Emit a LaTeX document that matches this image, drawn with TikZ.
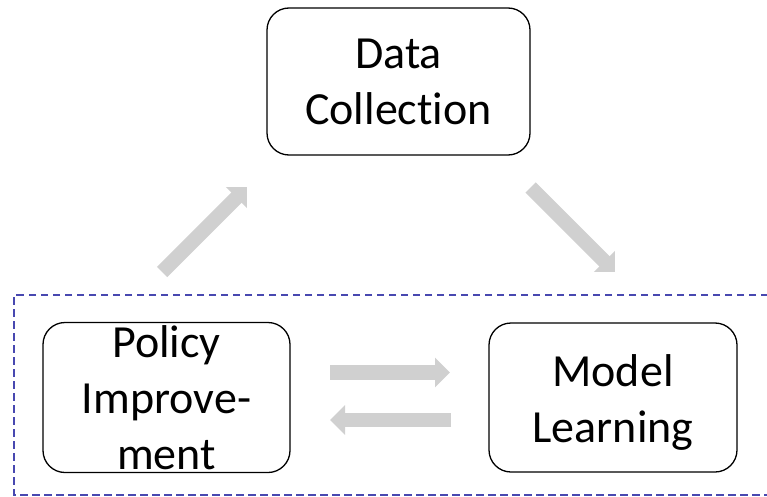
\documentclass[tikz,border=0pt]{standalone}
\usepackage{fontspec}
\setmainfont[Ligatures=NoCommon]{Carlito}
\usetikzlibrary{arrows.meta}
\definecolor{arrowgray}{RGB}{208,208,208}
\definecolor{frameblue}{RGB}{72,72,176}
\tikzset{
  stagebox/.style={draw=black, line width=1.3pt, rounded corners=22pt, fill=white, inner sep=0pt},
  stagetext/.style={align=center, inner sep=0pt, font=\fontsize{46}{56}\selectfont},
  flow/.style={draw=arrowgray, line width=14.5pt, line cap=butt,
    -{Triangle[length=15pt, width=29pt]}},
  loopframe/.style={draw=frameblue, line width=1.3pt, dash pattern=on 7.5pt off 4.5pt}
}
\begin{document}
\begin{tikzpicture}[x=1pt, y=-1pt]
  \useasboundingbox (0,0) rectangle (767,497);

  % inner loop frame (runs off the right edge)
  \draw[loopframe] (780,295) -- (14,295) -- (14,495) -- (780,495);

  % stage boxes
  \node[stagebox, minimum width=263pt, minimum height=147pt] (dc) at (398.5,81.5) {};
  \node[stagebox, minimum width=247pt, minimum height=150pt] (pi) at (166.5,397.5) {};
  \node[stagebox, minimum width=248pt, minimum height=149pt] (ml) at (613,397.5) {};

  \node[stagetext] (dct) at ([yshift=-0.5pt]dc) {Data\\Collection};
  \node[stagetext] (pit) at (pi) {Policy\\Improve-\\ment};
  \node[stagetext] (mlt) at ([yshift=-5pt]ml) {Model\\Learning};

  % arrow end points
  \coordinate (up-from) at (162,272);
  \coordinate (up-to) at (247,187);
  \coordinate (down-from) at (530.5,187.5);
  \coordinate (down-to) at (615,272);
  \coordinate (fwd-from) at (330,372.5);
  \coordinate (fwd-to) at (450,372.5);
  \coordinate (back-from) at (451,420);
  \coordinate (back-to) at (330,420);

  % block arrows
  \draw[flow] (up-from) -- (up-to);
  \draw[flow] (down-from) -- (down-to);
  \draw[flow] (fwd-from) -- (fwd-to);
  \draw[flow] (back-from) -- (back-to);
\end{tikzpicture}
\end{document}
